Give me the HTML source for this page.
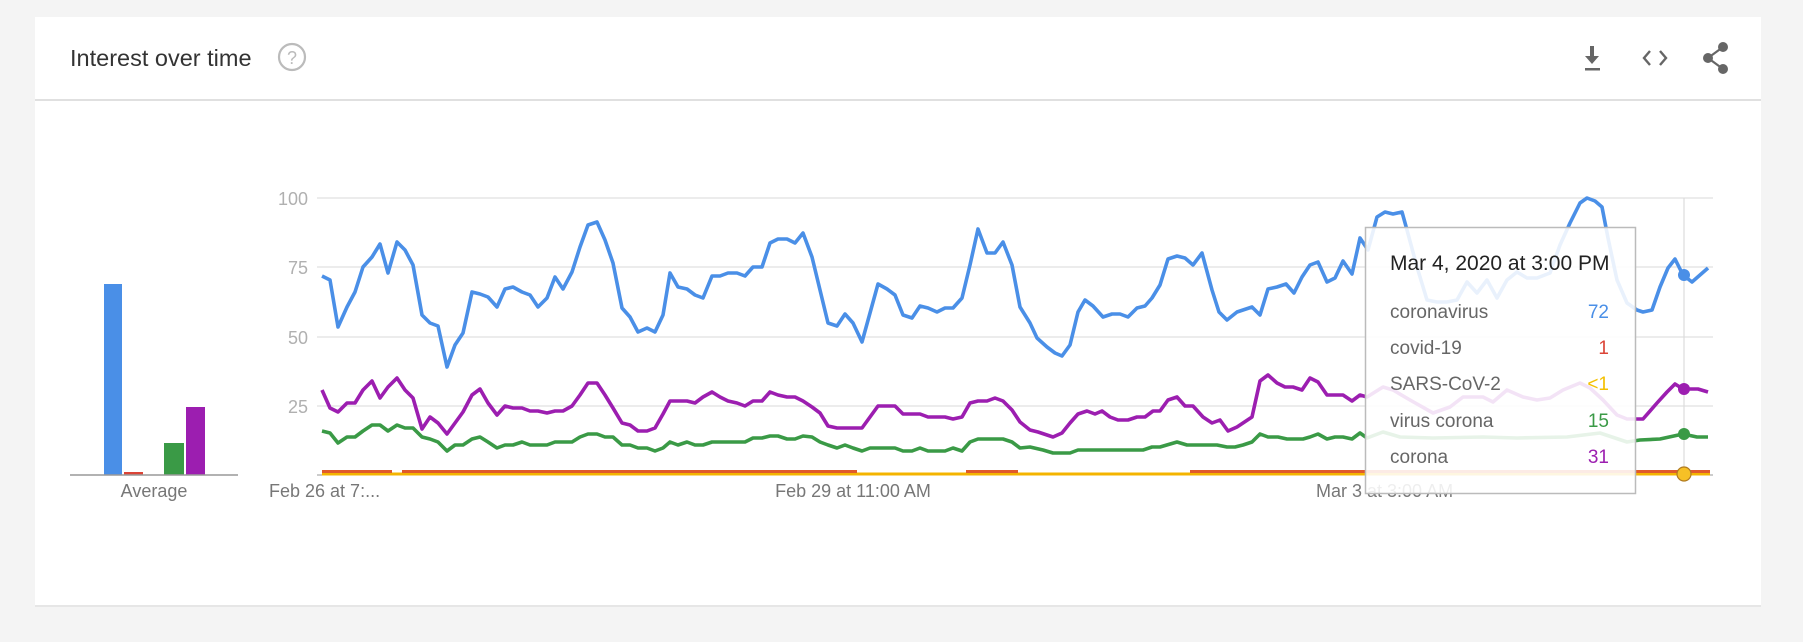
<!DOCTYPE html>
<html><head><meta charset="utf-8"><style>
html,body{margin:0;padding:0;background:#f4f4f4;width:1803px;height:642px;overflow:hidden}
svg{display:block}
text{font-family:"Liberation Sans",sans-serif}
</style></head><body>
<svg width="1803" height="642" viewBox="0 0 1803 642" xmlns="http://www.w3.org/2000/svg">
<rect x="0" y="0" width="1803" height="642" fill="#f4f4f4"/>
<rect x="35" y="18" width="1726" height="589" fill="#e6e6e6"/>
<rect x="35" y="17" width="1726" height="588" fill="#fff"/>
<line x1="35" y1="100" x2="1761" y2="100" stroke="#e0e0e0" stroke-width="2"/>
<text x="70" y="66" font-size="23.5" fill="#333">Interest over time</text>
<circle cx="292" cy="57" r="13" fill="none" stroke="#bbb" stroke-width="2.2"/>
<text x="292" y="64" font-size="18" fill="#bbb" text-anchor="middle">?</text>
<g fill="#666"><rect x="1590" y="46" width="4" height="11"/><polygon points="1585,56 1599,56 1592,64"/><rect x="1585" y="68" width="15" height="2.5"/></g>
<g fill="none" stroke="#666" stroke-width="2.4"><polyline points="1650,51 1644,58 1650,65"/><polyline points="1660,51 1666,58 1660,65"/></g>
<g fill="#666"><circle cx="1723" cy="47" r="5"/><circle cx="1708" cy="58" r="5"/><circle cx="1723" cy="69" r="5"/></g>
<g stroke="#666" stroke-width="2.2"><line x1="1723" y1="47" x2="1708" y2="58"/><line x1="1708" y1="58" x2="1723" y2="69"/></g>

<g stroke="#e0e0e0" stroke-width="1.2">
<line x1="317" y1="198" x2="1713" y2="198"/><line x1="317" y1="267" x2="1713" y2="267"/>
<line x1="317" y1="337" x2="1713" y2="337"/><line x1="317" y1="406" x2="1713" y2="406"/>
</g>
<line x1="317" y1="475" x2="1713" y2="475" stroke="#999" stroke-width="1"/>
<g font-size="18" fill="#b0b0b0" text-anchor="end">
<text x="308" y="205">100</text><text x="308" y="274">75</text><text x="308" y="344">50</text><text x="308" y="413">25</text>
</g>
<line x1="1684" y1="198" x2="1684" y2="475" stroke="#ddd" stroke-width="1.2"/>

<rect x="104" y="284" width="18" height="191" fill="#4a8fe7"/>
<rect x="124" y="472" width="19" height="3" fill="#db4437"/>
<rect x="164" y="443" width="20" height="32" fill="#3a9a46"/>
<rect x="186" y="407" width="19" height="68" fill="#9c1eb0"/>
<line x1="70" y1="475" x2="238" y2="475" stroke="#999" stroke-width="1.5"/>
<g font-size="18" fill="#777">
<text x="154" y="497" text-anchor="middle">Average</text>
<text x="269" y="497">Feb 26 at 7:...</text>
<text x="853" y="497" text-anchor="middle">Feb 29 at 11:00 AM</text>
<text x="1316" y="497">Mar 3 at 3:00 AM</text>
</g>

<line x1="322" y1="474" x2="1710" y2="474" stroke="#f4b400" stroke-width="3"/>
<g stroke="#e05a2b" stroke-width="3">
<line x1="322" y1="471.5" x2="392" y2="471.5"/><line x1="402" y1="471.5" x2="857" y2="471.5"/>
<line x1="966" y1="471.5" x2="1018" y2="471.5"/><line x1="1190" y1="471.5" x2="1710" y2="471.5"/>
</g>

<g fill="none" stroke-width="3.6" stroke-linejoin="round">
<polyline stroke="#9c1eb0" points="322,390 330,408 338,412 347,403 355,403 363,390 372,381 380,398 388,387 397,378 405,390 413,398 422,429 430,417 438,423 447,434 455,423 463,412 472,395 480,389 488,403 497,415 505,406 513,408 522,408 530,411 538,411 547,413 555,411 563,411 572,406 580,395 588,383 597,383 605,395 613,408 622,423 630,425 638,431 647,431 655,428 663,414 670,401 678,401 687,401 695,403 703,397 712,392 720,397 728,401 737,403 745,406 753,401 762,401 770,392 778,395 787,397 795,397 803,401 812,407 820,413 828,426 837,428 845,428 853,428 862,428 870,417 878,406 887,406 895,406 903,414 912,414 920,414 928,417 937,417 945,417 953,419 962,417 970,403 978,401 987,401 995,398 1003,401 1012,410 1020,422 1030,430 1038,432 1053,437 1062,433 1070,423 1078,414 1087,411 1095,414 1102,411 1110,417 1118,420 1128,420 1137,417 1145,417 1153,411 1160,411 1168,400 1177,397 1185,406 1193,406 1203,417 1212,423 1220,420 1228,431 1237,427 1252,417 1260,381 1268,375 1277,383 1285,387 1293,387 1302,390 1310,378 1318,382 1327,395 1335,395 1343,395 1352,401 1360,395 1367,397 1383,387 1393,390 1410,400 1433,413 1450,407 1463,397 1483,397 1493,402 1507,390 1523,397 1537,400 1550,398 1563,390 1580,383 1590,388 1603,400 1617,415 1627,419 1643,419 1657,403 1667,392 1675,384 1683,389 1698,389 1708,392"/>
<polyline stroke="#3a9a46" points="322,431 330,433 338,443 347,437 355,437 363,431 372,425 380,425 388,431 397,425 405,428 413,428 422,437 430,439 438,442 447,451 455,445 463,445 472,439 480,437 488,442 497,448 505,445 513,445 522,442 530,445 538,445 547,445 555,442 563,442 572,442 580,437 588,434 597,434 605,437 613,437 622,445 630,445 638,448 647,448 655,451 663,448 670,442 678,445 687,442 695,445 703,445 712,442 745,442 753,438 762,438 770,436 778,436 787,439 795,439 803,436 812,437 820,442 828,445 837,448 845,445 853,448 862,451 870,448 895,448 903,451 912,451 920,448 928,451 945,451 953,448 962,451 970,442 978,439 1003,439 1012,442 1020,448 1030,447 1043,450 1053,453 1070,453 1078,450 1143,450 1152,447 1160,447 1177,442 1187,445 1217,445 1227,447 1235,447 1243,445 1252,442 1260,434 1268,437 1278,437 1287,439 1303,439 1310,437 1318,434 1327,439 1335,437 1343,437 1352,439 1360,433 1367,438 1383,432 1400,437 1433,438 1483,437 1517,438 1567,437 1600,433 1627,442 1640,440 1660,439 1683,434 1697,437 1708,437"/>
<polyline stroke="#4a8fe7" points="322,276 330,280 338,327 347,307 355,292 363,267 372,257 380,244 388,273 397,242 405,250 413,265 422,315 430,323 438,326 447,367 455,345 463,333 472,292 480,294 488,297 497,307 505,289 513,287 522,292 530,295 538,307 547,298 555,277 563,289 572,272 580,247 588,225 597,222 605,240 613,263 622,308 630,317 638,332 647,328 655,332 663,315 670,273 678,287 687,289 695,295 703,298 712,276 720,276 728,273 737,273 745,276 753,267 762,267 770,243 778,239 787,239 795,243 803,233 812,257 820,290 828,323 837,326 845,314 853,323 862,342 870,313 878,284 887,289 895,295 903,315 912,318 920,306 928,308 937,312 945,308 953,308 962,298 970,265 978,229 987,253 995,253 1003,242 1012,265 1020,307 1030,323 1037,338 1047,347 1055,353 1062,356 1070,345 1078,312 1085,300 1093,306 1103,317 1112,314 1120,314 1128,317 1137,308 1145,306 1152,298 1160,285 1168,259 1177,256 1185,258 1193,265 1202,253 1212,290 1219,312 1227,320 1237,312 1252,307 1260,315 1268,289 1277,287 1286,284 1294,293 1302,277 1310,265 1318,262 1327,282 1335,278 1343,261 1352,274 1360,238 1368,250 1377,217 1385,212 1393,214 1402,212 1407,230 1417,267 1427,300 1437,302 1447,302 1457,300 1467,282 1477,293 1487,280 1497,298 1507,280 1517,272 1527,278 1537,278 1550,273 1560,245 1570,223 1580,203 1587,198 1595,201 1602,207 1608,238 1617,280 1627,303 1637,310 1643,312 1652,310 1660,287 1668,268 1675,259 1683,275 1692,282 1700,275 1708,268"/>
</g>
<circle cx="1684" cy="275" r="6" fill="#4a8fe7"/>
<circle cx="1684" cy="389" r="6" fill="#9c1eb0"/>
<circle cx="1684" cy="434" r="6" fill="#3a9a46"/>
<circle cx="1684" cy="474" r="7" fill="#f6c026" stroke="#b07a20" stroke-width="1.2"/>

<rect x="1365.5" y="227.5" width="270" height="266" fill="#fff" fill-opacity="0.88" stroke="#bbb" stroke-width="1.5"/>
<text x="1390" y="270" font-size="21" fill="#222">Mar 4, 2020 at 3:00 PM</text>
<g font-size="19" fill="#666">
<text x="1390" y="318">coronavirus</text><text x="1390" y="354">covid-19</text>
<text x="1390" y="390">SARS-CoV-2</text><text x="1390" y="427">virus corona</text>
<text x="1390" y="463">corona</text>
</g>
<g font-size="19" text-anchor="end">
<text x="1609" y="318" fill="#4a8fe7">72</text><text x="1609" y="354" fill="#db4437">1</text>
<text x="1609" y="390" fill="#f4c000">&lt;1</text><text x="1609" y="427" fill="#3a9a46">15</text>
<text x="1609" y="463" fill="#9c1eb0">31</text>
</g>
</svg>
</body></html>
